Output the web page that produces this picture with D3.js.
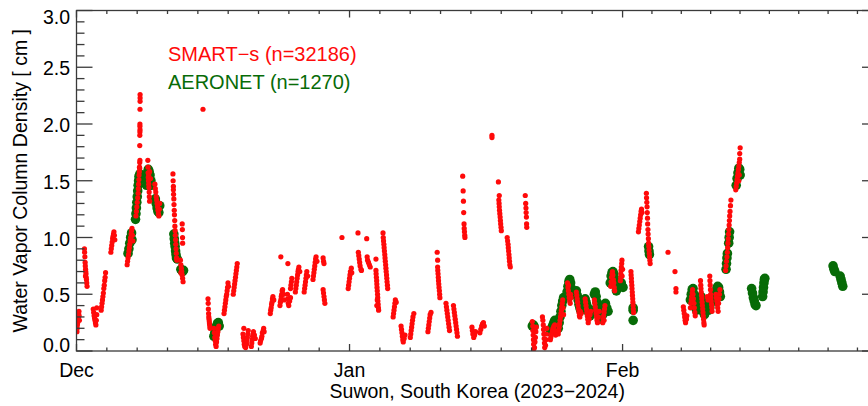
<!DOCTYPE html>
<html>
<head>
<meta charset="utf-8">
<script src="https://cdn.jsdelivr.net/npm/d3@7"></script>
<style>
body { margin: 0; padding: 0; background: #fff; }
text { font-family: "Liberation Sans", Arial, Helvetica, sans-serif; fill: #000; }
.frame line, .frame rect { stroke: #3a3a3a; stroke-width: 1.3px; fill: none; }
</style>
</head>
<body>
<svg></svg>
<script>
// [days since 1 Dec 2023 00 UTC, water vapour column in cm]
var smart = [
  [0.05,0.17],[0.08,0.2],[0.1,0.23],[0.13,0.25],[0.16,0.28],[0.2,0.3],[0.24,0.33],[0.28,0.35],[0.3,0.31],[0.33,0.27],
  [0.9,0.9],[0.92,0.87],[0.95,0.83],[0.98,0.78],[1.0,0.75],[1.03,0.72],[1.05,0.7],[1.08,0.68],[1.1,0.65],[1.13,0.63],[1.16,0.6],[1.2,0.57],[1.02,0.66],
  [1.9,0.37],[1.95,0.34],[2.0,0.31],[2.05,0.29],[2.1,0.27],[2.15,0.25],[2.2,0.23],[2.25,0.27],[2.3,0.32],[2.3,0.38],
  [2.8,0.36],[2.85,0.39],[2.9,0.42],[2.95,0.45],[3.0,0.48],[3.05,0.51],[3.1,0.55],[3.15,0.58],[3.2,0.62],[3.25,0.65],[3.3,0.69],
  [3.9,0.87],[3.95,0.9],[4.0,0.93],[4.05,0.96],[4.1,0.99],[4.15,1.01],[4.2,1.03],[4.25,1.05],[4.3,1.02],[4.35,0.98],
  [5.75,0.76],[5.8,0.79],[5.85,0.82],[5.9,0.85],[5.95,0.88],[6.0,0.91],[6.05,0.94],[6.1,0.97],[6.15,1.0],[6.2,1.03],[6.25,1.06],[6.3,1.08],[6.35,1.02],[6.4,0.97],
  [6.75,1.19],[6.8,1.23],[6.85,1.27],[6.9,1.31],[6.95,1.35],[7.0,1.39],[7.02,1.43],[7.05,1.47],[7.08,1.51],[7.1,1.55],[7.13,1.58],[7.15,1.62],[7.18,1.66],
  [7.22,2.26],[7.22,2.23],[7.22,2.2],[7.21,2.13],[7.2,2.0],[7.2,1.98],[7.21,1.95],[7.2,1.93],[7.19,1.9],[7.18,1.81],[7.2,1.68],[7.17,1.61],
  [8.1,1.68],[8.12,1.62],[8.13,1.57],[8.15,1.53],[8.17,1.5],[8.2,1.47],[8.22,1.44],[8.25,1.4],[8.27,1.36],[8.3,1.32],[8.2,1.55],[8.3,1.58],[8.4,1.52],
  [8.9,1.47],[8.95,1.43],[9.0,1.4],[9.05,1.36],[9.1,1.33],[9.15,1.3],[9.2,1.27],[9.25,1.24],[9.3,1.21],[9.35,1.19],[9.4,1.25],[9.45,1.3],
  [10.95,1.56],[10.97,1.5],[11.0,1.45],[11.0,1.42],[11.02,1.38],[11.05,1.34],[11.07,1.29],[11.1,1.24],[11.12,1.2],[11.15,1.15],[11.17,1.1],[11.2,1.06],
  [11.22,1.02],[11.25,0.98],[11.27,0.94],[11.3,0.9],[11.33,0.86],[11.36,0.82],[11.4,0.8],
  [12.0,1.12],[12.02,1.07],[12.04,1.0],[12.05,0.95],[11.8,0.8],[11.85,0.76],[11.9,0.73],[11.95,0.7],[12.0,0.67],[12.05,0.64],[12.1,0.61],[11.85,0.69],
  [14.36,2.13],
  [14.93,0.46],[14.95,0.42],[14.97,0.37],[15.0,0.33],[15.02,0.3],[15.05,0.28],[15.08,0.26],[15.1,0.24],[15.13,0.22],[15.16,0.2],
  [15.6,0.2],[15.65,0.16],[15.7,0.12],[15.75,0.09],[15.8,0.06],[15.85,0.04],[15.9,0.08],[15.95,0.11],[16.0,0.14],[16.05,0.17],[16.1,0.2],[16.15,0.22],
  [16.75,0.33],[16.8,0.36],[16.85,0.39],[16.9,0.42],[16.95,0.45],[17.0,0.48],[17.05,0.5],[17.1,0.53],[17.15,0.56],[17.2,0.6],[17.25,0.57],
  [17.8,0.5],[17.85,0.53],[17.9,0.56],[17.95,0.59],[18.0,0.62],[18.05,0.65],[18.1,0.68],[18.15,0.71],[18.2,0.74],[18.25,0.77],
  [18.9,0.15],[18.95,0.12],[19.0,0.09],[19.05,0.06],[19.1,0.04],[19.2,0.03],[19.3,0.06],[19.35,0.09],[19.4,0.12],[19.45,0.15],[19.5,0.18],[19.0,0.2],
  [19.85,0.04],[19.9,0.07],[19.95,0.1],[20.0,0.13],[20.05,0.15],[20.1,0.17],[20.2,0.14],[20.3,0.11],
  [20.85,0.07],[20.9,0.09],[21.0,0.11],[21.05,0.13],[21.1,0.16],[21.2,0.18],[21.25,0.2],[21.3,0.17],
  [22.0,0.33],[22.05,0.36],[22.1,0.38],[22.15,0.41],[22.2,0.43],[22.25,0.46],[22.3,0.48],[22.4,0.45],
  [23.1,0.4],[23.15,0.43],[23.2,0.45],[23.25,0.48],[23.3,0.5],[23.35,0.53],[23.4,0.54],[23.5,0.5],[23.6,0.45],[23.2,0.83],
  [24.0,0.77],[23.95,0.5],[24.0,0.46],[24.05,0.42],[24.1,0.4],[24.2,0.44],[24.3,0.47],[24.3,0.55],[24.35,0.58],[24.4,0.61],[24.45,0.64],
  [24.85,0.52],[24.9,0.55],[24.95,0.58],[25.0,0.61],[25.05,0.64],[25.1,0.67],[25.15,0.7],[25.2,0.72],[25.25,0.74],[25.35,0.7],
  [25.85,0.52],[25.9,0.55],[25.95,0.58],[26.0,0.61],[26.05,0.64],[26.1,0.67],[26.15,0.7],[26.25,0.66],
  [26.85,0.63],[26.9,0.66],[26.95,0.69],[27.0,0.72],[27.05,0.75],[27.1,0.78],[27.15,0.81],[27.2,0.83],[27.3,0.79],
  [28.0,0.82],[28.05,0.79],[28.1,0.77],[28.0,0.54],[28.05,0.51],[28.1,0.48],[28.15,0.45],[28.2,0.42],
  [30.14,1.0],
  [30.85,0.55],[30.9,0.58],[30.95,0.61],[31.0,0.64],[31.05,0.67],[31.1,0.7],[31.2,0.73],[31.25,0.69],
  [31.96,1.04],[32.0,0.87],[32.05,0.84],[32.1,0.81],[32.15,0.78],[32.2,0.75],[32.3,0.72],[32.35,0.71],
  [32.95,0.99],[33.0,0.83],[33.05,0.8],[33.15,0.78],[33.25,0.76],[33.35,0.74],
  [34.0,0.81],[34.0,0.71],[34.02,0.68],[34.05,0.65],[34.08,0.62],[34.1,0.59],[34.12,0.56],[34.15,0.53],[34.18,0.5],[34.2,0.47],[34.22,0.44],[34.25,0.41],[34.28,0.38],[34.3,0.36],[34.1,0.4],[34.15,0.45],
  [34.8,1.04],[34.83,1.0],[34.86,0.97],[34.9,0.94],[34.93,0.91],[34.96,0.88],[35.0,0.85],[35.03,0.82],[35.06,0.79],[35.1,0.76],[35.13,0.73],[35.16,0.7],[35.2,0.67],[35.23,0.64],[35.26,0.61],[35.3,0.58],[35.33,0.55],
  [35.95,0.3],[36.0,0.33],[36.05,0.36],[36.1,0.39],[36.15,0.42],[36.2,0.45],[36.3,0.43],
  [36.85,0.22],[36.9,0.19],[36.95,0.16],[37.0,0.13],[37.05,0.1],[37.1,0.08],[37.2,0.11],[37.3,0.14],
  [37.9,0.12],[37.95,0.15],[38.0,0.18],[38.05,0.21],[38.1,0.24],[38.15,0.27],[38.2,0.3],[38.3,0.33],
  [39.9,0.17],[39.95,0.2],[40.0,0.23],[40.05,0.26],[40.1,0.29],[40.15,0.32],[40.25,0.34],
  [40.95,0.87],[41.0,0.8],[41.0,0.74],[41.02,0.71],[41.05,0.68],[41.08,0.65],[41.1,0.62],[41.13,0.59],[41.16,0.56],[41.2,0.53],[41.23,0.5],[41.26,0.47],
  [41.95,0.42],[42.0,0.39],[42.05,0.36],[42.1,0.33],[42.15,0.3],[42.2,0.27],[42.25,0.24],[42.3,0.21],[42.35,0.18],
  [42.8,0.4],[42.85,0.37],[42.9,0.34],[42.95,0.31],[43.0,0.28],[43.05,0.25],[43.1,0.22],[43.15,0.19],[43.2,0.16],[43.25,0.13],
  [43.85,1.54],[43.9,1.41],[43.93,1.32],[43.96,1.22],[44.0,1.12],[44.02,1.08],[44.05,1.05],[44.08,1.02],[44.1,1.0],
  [44.9,0.21],[44.95,0.18],[45.0,0.15],[45.1,0.12],[45.2,0.14],[45.3,0.17],
  [45.8,0.16],[45.9,0.19],[46.0,0.22],[46.1,0.24],[46.2,0.25],[46.3,0.22],
  [47.17,1.9],[47.17,1.88],
  [47.9,1.49],[48.0,1.37],[47.95,1.33],[47.98,1.3],[48.0,1.27],[48.03,1.24],[48.06,1.21],[48.1,1.18],[48.13,1.15],[48.16,1.12],[48.2,1.09],[48.23,1.06],
  [48.9,1.0],[48.95,0.97],[49.0,0.94],[49.03,0.91],[49.06,0.88],[49.1,0.85],[49.13,0.82],[49.16,0.79],[49.2,0.76],[49.25,0.74],
  [50.95,1.37],[51.0,1.3],[51.03,1.26],[51.05,1.22],[51.08,1.18],[51.1,1.12],[51.12,1.09],
  [51.75,0.26],[51.8,0.22],[51.82,0.18],[51.85,0.14],[51.88,0.1],[51.9,0.06],[51.93,0.02],[51.96,-0.02],[52.0,0.03],[52.05,0.08],[52.1,0.12],[52.15,0.17],[52.2,0.21],
  [52.9,0.3],[52.95,0.27],[53.0,0.23],[53.03,0.19],[53.06,0.15],[53.1,0.11],[53.13,0.07],[53.16,0.03],[53.2,-0.02],[53.25,0.05],[53.3,0.1],[53.35,0.15],[53.4,0.2],
  [53.8,0.1],[53.85,0.12],[53.9,0.14],[54.0,0.16],[54.05,0.18],[54.1,0.2],[54.2,0.22],[54.3,0.23],[54.35,0.18],[54.4,0.14],
  [54.7,0.15],[54.75,0.18],[54.8,0.21],[54.85,0.24],[54.9,0.27],[54.95,0.3],[55.0,0.33],[55.05,0.36],[55.1,0.39],[55.15,0.42],[55.2,0.45],[55.25,0.38],[55.3,0.32],
  [55.75,0.6],[55.8,0.56],[55.85,0.53],[55.9,0.5],[55.95,0.47],[56.0,0.44],[56.05,0.42],[55.85,0.58],[56.1,0.5],[56.15,0.47],
  [56.75,0.52],[56.8,0.49],[56.85,0.46],[56.9,0.43],[56.95,0.4],[57.0,0.37],[57.05,0.34],[57.1,0.31],[57.15,0.3],[57.2,0.35],[57.3,0.33],
  [57.75,0.46],[57.8,0.43],[57.85,0.4],[57.9,0.37],[57.95,0.34],[58.0,0.31],[58.05,0.28],[58.1,0.25],[58.2,0.28],[58.3,0.32],[58.4,0.35],
  [58.8,0.45],[58.85,0.42],[58.9,0.39],[58.95,0.36],[59.0,0.33],[59.05,0.3],[59.1,0.27],[59.15,0.25],[59.25,0.3],[59.35,0.35],
  [59.75,0.25],[59.8,0.28],[59.85,0.31],[59.9,0.34],[59.95,0.37],[60.0,0.4],[59.9,0.27],
  [60.65,0.57],[60.7,0.61],[60.75,0.65],[60.8,0.68],[60.85,0.7],[60.9,0.67],[60.95,0.63],[61.0,0.6],[61.05,0.56],[61.1,0.53],
  [61.75,0.62],[61.78,0.65],[61.8,0.68],[61.83,0.71],[61.86,0.74],[61.9,0.77],[61.93,0.8],[62.0,0.72],[61.95,0.66],
  [62.95,0.7],[62.97,0.67],[63.0,0.64],[63.02,0.61],[63.05,0.58],[63.07,0.55],[63.1,0.52],[63.12,0.49],[63.15,0.46],[63.17,0.43],[63.2,0.4],[63.22,0.37],[63.25,0.34],
  [63.8,1.05],[63.85,1.08],[63.9,1.11],[63.95,1.14],[64.0,1.17],[64.05,1.2],[64.1,1.23],[64.15,1.25],[64.2,1.22],
  [64.7,1.39],[64.72,1.35],[64.75,1.31],[64.78,1.27],[64.8,1.22],[64.83,1.17],[64.85,1.12],[64.88,1.07],[64.9,1.03],[64.93,0.99],[64.95,0.95],[64.98,0.92],[65.0,0.89],[65.03,0.86],[65.06,0.83],[65.1,0.8],[65.13,0.77],
  [67.16,0.87],[67.95,0.7],[68.06,0.55],[68.06,0.52],
  [68.9,0.39],[68.95,0.36],[69.0,0.33],[69.05,0.3],[69.1,0.27],[69.15,0.25],[69.25,0.28],[69.3,0.31],
  [69.7,0.38],[69.75,0.42],[69.8,0.45],[69.85,0.48],[69.9,0.51],[69.95,0.54],[70.0,0.5],[70.05,0.46],[70.1,0.42],[70.15,0.38],[70.2,0.34],[70.25,0.31],
  [70.85,0.62],[70.88,0.58],[70.9,0.55],[70.93,0.52],[70.96,0.49],[71.0,0.46],[71.03,0.43],[71.06,0.4],[71.1,0.37],[71.13,0.34],[71.16,0.31],[71.2,0.28],[71.23,0.25],[71.26,0.23],
  [71.9,0.66],[71.92,0.62],[71.95,0.58],[71.98,0.54],[72.0,0.5],[72.03,0.47],[72.06,0.44],[72.1,0.41],[72.13,0.38],[72.16,0.35],[71.6,0.48],[71.7,0.45],
  [72.6,0.5],[72.65,0.47],[72.7,0.44],[72.75,0.41],[72.8,0.38],[72.85,0.35],[72.9,0.42],[72.95,0.46],[73.0,0.5],[73.05,0.54],
  [73.7,0.71],[73.75,0.75],[73.8,0.79],[73.85,0.83],[73.9,0.87],[73.93,0.91],[73.96,0.95],[74.0,0.99],[74.03,1.03],[74.06,1.07],[74.1,1.11],[74.13,1.15],[74.16,1.19],[74.2,1.23],[74.25,1.28],[74.3,1.33],
  [74.85,1.42],[74.9,1.45],[74.95,1.48],[75.0,1.51],[75.05,1.54],[75.1,1.57],[75.15,1.6],[75.2,1.63],[75.25,1.66],[75.3,1.69],[75.3,1.74],[75.35,1.79],[75.2,1.5],[75.25,1.55]
];

var aeronet = [
  [5.85,0.86],[5.95,0.9],[6.05,0.95],[6.15,1.0],[6.25,1.04],[6.3,0.98],
  [6.7,1.16],[6.75,1.21],[6.8,1.26],[6.85,1.31],[6.9,1.36],[6.95,1.41],[7.0,1.46],[7.05,1.5],[7.1,1.54],[7.2,1.56],[7.3,1.52],
  [7.95,1.46],[8.0,1.52],[8.05,1.57],[8.15,1.6],[8.25,1.58],[8.35,1.55],[8.45,1.5],[8.5,1.46],
  [8.95,1.34],[9.05,1.3],[9.15,1.26],[9.25,1.23],[9.35,1.22],[9.45,1.28],
  [11.05,1.03],[11.1,0.99],[11.15,0.95],[11.2,0.92],[11.25,0.88],[11.3,0.85],[11.35,0.82],[11.45,0.81],
  [11.85,0.72],[11.95,0.71],[12.05,0.7],[12.15,0.71],
  [15.6,0.13],[15.7,0.16],[15.8,0.19],[15.9,0.22],[16.0,0.24],[16.1,0.25],[16.2,0.22],
  [51.75,0.22],[51.85,0.23],[51.95,0.22],
  [53.8,0.17],[53.9,0.19],[54.0,0.21],[54.1,0.23],[54.2,0.25],[54.3,0.27],[54.4,0.26],
  [54.7,0.2],[54.8,0.25],[54.9,0.3],[55.0,0.35],[55.1,0.4],[55.2,0.44],[55.3,0.47],
  [55.7,0.52],[55.8,0.57],[55.9,0.61],[56.0,0.63],[56.1,0.6],[56.2,0.55],[56.3,0.5],
  [56.75,0.53],[56.85,0.49],[56.95,0.45],[57.05,0.41],[57.15,0.38],[57.25,0.36],
  [57.75,0.46],[57.85,0.43],[57.95,0.4],[58.05,0.37],[58.15,0.34],[58.3,0.31],[58.45,0.36],
  [58.8,0.5],[58.9,0.52],[59.0,0.48],[59.1,0.43],[59.2,0.38],[59.3,0.33],[59.4,0.28],
  [59.75,0.32],[59.85,0.36],[59.95,0.4],[60.05,0.42],[60.2,0.38],[60.35,0.35],
  [60.6,0.6],[60.7,0.66],[60.8,0.69],[60.9,0.7],[61.0,0.68],[61.1,0.64],[61.2,0.58],[61.3,0.53],
  [61.85,0.6],[61.95,0.57],[62.05,0.56],
  [63.2,0.38],[63.2,0.36],[63.2,0.27],
  [64.95,0.92],[65.0,0.88],[65.05,0.85],
  [69.7,0.45],[69.8,0.5],[69.9,0.54],[70.0,0.55],[70.1,0.5],[70.2,0.45],[70.3,0.4],[70.4,0.36],
  [70.9,0.48],[71.0,0.44],[71.1,0.39],[71.2,0.34],[71.3,0.32],
  [71.6,0.42],[71.7,0.38],[71.8,0.36],[71.9,0.38],[72.0,0.42],[72.1,0.46],
  [72.6,0.52],[72.7,0.55],[72.8,0.57],[72.9,0.56],[73.0,0.52],[73.1,0.48],
  [73.75,0.72],[73.8,0.77],[73.85,0.82],[73.9,0.86],[74.05,0.95],[74.1,1.0],[74.15,1.05],
  [74.9,1.46],[75.0,1.52],[75.1,1.57],[75.2,1.61],[75.3,1.6],[75.35,1.55],
  [76.65,0.55],[76.75,0.51],[76.85,0.47],[76.95,0.44],[77.05,0.41],[77.15,0.4],
  [77.9,0.48],[77.95,0.52],[78.0,0.56],[78.05,0.6],[78.1,0.63],[78.15,0.64],
  [85.9,0.75],[86.0,0.72],[86.1,0.7],
  [86.7,0.66],[86.8,0.63],[86.9,0.6],[87.0,0.57]
];

var monthNames = ['Dec', 'Jan', 'Feb'];
var monthStarts = [Date.UTC(2023, 11, 1), Date.UTC(2024, 0, 1), Date.UTC(2024, 1, 1)];
var yMajor = [0, 0.5, 1.0, 1.5, 2.0, 2.5, 3.0];
var legendLabels = ['SMART\u2212s (n=32186)', 'AERONET (n=1270)'];
var xTitle = 'Suwon, South Korea (2023\u22122024)';
var yTitle = 'Water Vapor Column Density [ cm ]';

var red = '#ff0a0a', green = '#076b07';

var svg = d3.select('svg').attr('width', 868).attr('height', 406);

var pLeft = 76.5, pRight = 878, pTop = 10.5, pBottom = 351;
var day = 864e5;

var x = d3.scaleUtc()
  .domain([new Date(monthStarts[0]), new Date(Date.UTC(2024, 2, 1))])
  .range([pLeft, pRight]);
var y = d3.scaleLinear().domain([0, 3]).range([pBottom, pTop]);

function tx(d) { return x(new Date(monthStarts[0] + d[0] * day)); }

svg.append('defs').append('clipPath').attr('id', 'plot')
  .append('rect').attr('x', pLeft).attr('y', pTop)
  .attr('width', pRight - pLeft).attr('height', pBottom - pTop);

var pts = svg.append('g').attr('clip-path', 'url(#plot)');

pts.selectAll('circle.aer').data(aeronet).enter().append('circle')
  .attr('class', 'aer')
  .attr('cx', tx)
  .attr('cy', function(d) { return y(d[1]); })
  .attr('r', 4.8)
  .attr('fill', green);

pts.selectAll('circle.sm').data(smart).enter().append('circle')
  .attr('class', 'sm')
  .attr('cx', tx)
  .attr('cy', function(d) { return y(d[1]); })
  .attr('r', 2.6)
  .attr('fill', red);

// frame and ticks
var frame = svg.append('g').attr('class', 'frame');
frame.append('rect').attr('x', pLeft).attr('y', pTop)
  .attr('width', pRight - pLeft).attr('height', pBottom - pTop);

// x ticks: majors at month starts, 9 minor intervals per month
var xMinor = [];
var ends = monthStarts.slice(1).concat([monthStarts[2] + 30 * day]);
monthStarts.forEach(function(s, i) {
  var step = (ends[i] - s) / 9;
  for (var k = 1; k < 9; k++) xMinor.push(s + k * step);
});
var yMinor = d3.range(0, 31).map(function(i) { return i / 10; })
  .filter(function(v) { return Math.round(v * 10) % 5 !== 0; });

monthStarts.forEach(function(s) {
  var px = x(new Date(s));
  frame.append('line').attr('x1', px).attr('x2', px).attr('y1', pBottom).attr('y2', pBottom - 7);
  frame.append('line').attr('x1', px).attr('x2', px).attr('y1', pTop).attr('y2', pTop + 7);
});
xMinor.forEach(function(s) {
  var px = x(new Date(s));
  frame.append('line').attr('x1', px).attr('x2', px).attr('y1', pBottom).attr('y2', pBottom - 3.5);
  frame.append('line').attr('x1', px).attr('x2', px).attr('y1', pTop).attr('y2', pTop + 3.5);
});
yMajor.forEach(function(v) {
  frame.append('line').attr('x1', pLeft).attr('x2', pLeft + 16).attr('y1', y(v)).attr('y2', y(v));
  frame.append('line').attr('x1', pRight).attr('x2', pRight - 16).attr('y1', y(v)).attr('y2', y(v));
});
yMinor.forEach(function(v) {
  frame.append('line').attr('x1', pLeft).attr('x2', pLeft + 8).attr('y1', y(v)).attr('y2', y(v));
  frame.append('line').attr('x1', pRight).attr('x2', pRight - 8).attr('y1', y(v)).attr('y2', y(v));
});

// tick labels
svg.append('g').selectAll('text').data(yMajor).enter().append('text')
  .attr('x', 70)
  .attr('y', function(v) {
    var off = v === 0 ? -6 : (v === 3 ? 6 : 1);
    return y(v) + off + 7;
  })
  .attr('text-anchor', 'end')
  .style('font-size', '19.5px')
  .text(function(v) { return d3.format('.1f')(v); });

svg.append('g').selectAll('text').data(monthNames).enter().append('text')
  .attr('x', function(m, i) { return x(new Date(monthStarts[i])); })
  .attr('y', 377)
  .attr('text-anchor', 'middle')
  .style('font-size', '19.5px')
  .text(function(m) { return m; });

svg.append('text')
  .attr('x', (pLeft + pRight) / 2).attr('y', 398)
  .attr('text-anchor', 'middle')
  .style('font-size', '19.5px')
  .text(xTitle);

svg.append('text')
  .attr('transform', 'translate(27,' + ((pTop + pBottom) / 2) + ') rotate(-90)')
  .attr('text-anchor', 'middle')
  .style('font-size', '19.5px')
  .text(yTitle);

svg.append('g').selectAll('text').data(legendLabels).enter().append('text')
  .attr('x', 168)
  .attr('y', function(d, i) { return 61 + i * 28.3; })
  .style('font-size', '20px')
  .style('fill', function(d, i) { return i === 0 ? red : green; })
  .text(function(d) { return d; });
</script>
</body>
</html>
